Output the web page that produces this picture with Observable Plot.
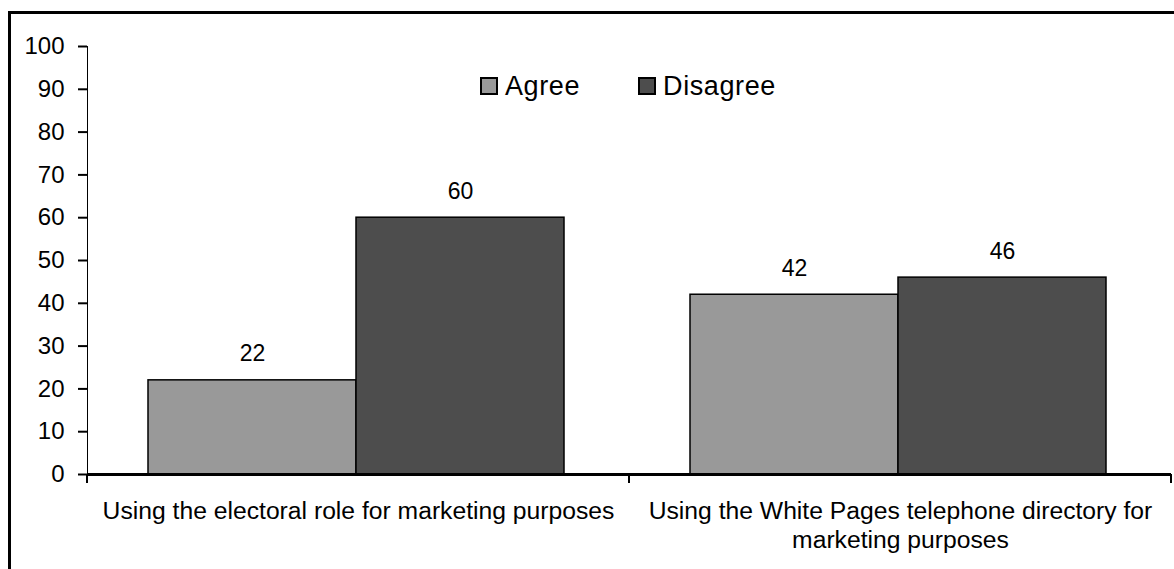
<!DOCTYPE html>
<html><head><meta charset="utf-8">
<script src="https://cdn.jsdelivr.net/npm/d3@7"></script>
<script src="https://cdn.jsdelivr.net/npm/@observablehq/plot@0.6"></script>
<style>
html,body{margin:0;padding:0;background:#fff;}
body{width:1174px;height:569px;overflow:hidden;position:relative;font-family:"Liberation Sans",Arial,sans-serif;}
#frame{position:absolute;left:8px;top:11px;right:0;bottom:0;border-left:3px solid #000;border-top:3px solid #000;}
#chart{position:absolute;left:0;top:0;}
#legend{position:absolute;top:57px;left:469px;height:30px;display:flex;align-items:center;font-size:27px;letter-spacing:0.6px;color:#000;white-space:nowrap;}
.item{display:flex;align-items:center;margin-right:58px;}
.sw{width:14px;height:14px;border:2px solid #000;margin-right:7px;box-sizing:content-box;}
svg g[aria-label="y-axis"], svg g[aria-label="y-axis tick"], svg g[aria-label="y-axis line"]{stroke-width:2px;}
</style></head>
<body>
<div id="frame"><div id="chart"></div><div id="legend"></div></div>
<script>
const categories = ["Using the electoral role for marketing purposes", "Using the White Pages telephone directory for marketing purposes"];
const categoryLabels = ["Using the electoral role for marketing purposes", "Using the White Pages telephone directory for\nmarketing purposes"];
const seriesNames = ["Agree", "Disagree"];
const agreeValues = [22, 42];
const disagreeValues = [60, 46];
const seriesColors = ["#999999", "#4d4d4d"];
const yTicks = [0, 10, 20, 30, 40, 50, 60, 70, 80, 90, 100];

const seriesValues = [agreeValues, disagreeValues];
const rows = [];
categories.forEach((c, i) => {
  seriesNames.forEach((s, j) => rows.push({category: c, label: categoryLabels[i], series: s, value: seriesValues[j][i]}));
});

const chart = Plot.plot({
  width: 1163, height: 555,
  marginLeft: 75, marginRight: 3, marginTop: 32, marginBottom: 95,
  style: {fontFamily: '"Liberation Sans", Arial, sans-serif', fontSize: "24px", color: "#000", background: "transparent", overflow: "visible"},
  facet: {data: rows, x: "category"},
  fx: {domain: categories, padding: 0, axis: null, label: null},
  x: {domain: seriesNames, paddingInner: 0, paddingOuter: 0.3, align: 0.482, axis: null, label: null},
  y: {domain: [0, 100], ticks: yTicks, tickSize: 9, tickPadding: 14, line: true, label: null},
  color: {domain: seriesNames, range: seriesColors},
  marks: [
    Plot.barY(rows, {x: "series", y: "value", fill: "series", stroke: "#000", strokeWidth: 1.5}),
    Plot.ruleY([0], {stroke: "#000", strokeWidth: 3}),
    Plot.text(rows, {x: "series", y: "value", text: d => String(d.value), lineAnchor: "bottom", dy: -19, fontSize: 23}),
    Plot.text(rows, {filter: d => d.series === seriesNames[0], text: "label", frameAnchor: "bottom", lineAnchor: "top", dy: 23, lineHeight: 1.2, fontSize: 24.7})
  ]
});
document.getElementById("chart").appendChild(chart);

// category boundary ticks below the x axis, from the library's fx and y scales
try {
  const fx = chart.scale("fx");
  const y = chart.scale("y");
  const y0 = y.apply(0);
  const edges = categories.map(c => fx.apply(c));
  edges.push(fx.apply(categories[categories.length - 1]) + fx.bandwidth);
  d3.select(chart).append("g").attr("aria-label", "category ticks")
    .selectAll("line").data(edges).join("line")
    .attr("x1", d => d).attr("x2", d => d)
    .attr("y1", y0).attr("y2", y0 + 9)
    .attr("stroke", "#000").attr("stroke-width", 2);
} catch (e) { console.error(e); }

// legend
const legend = d3.select("#legend");
seriesNames.forEach((s, i) => {
  const it = legend.append("div").attr("class", "item");
  it.append("div").attr("class", "sw").style("background", seriesColors[i]);
  it.append("span").text(s);
});
</script>
</body></html>
